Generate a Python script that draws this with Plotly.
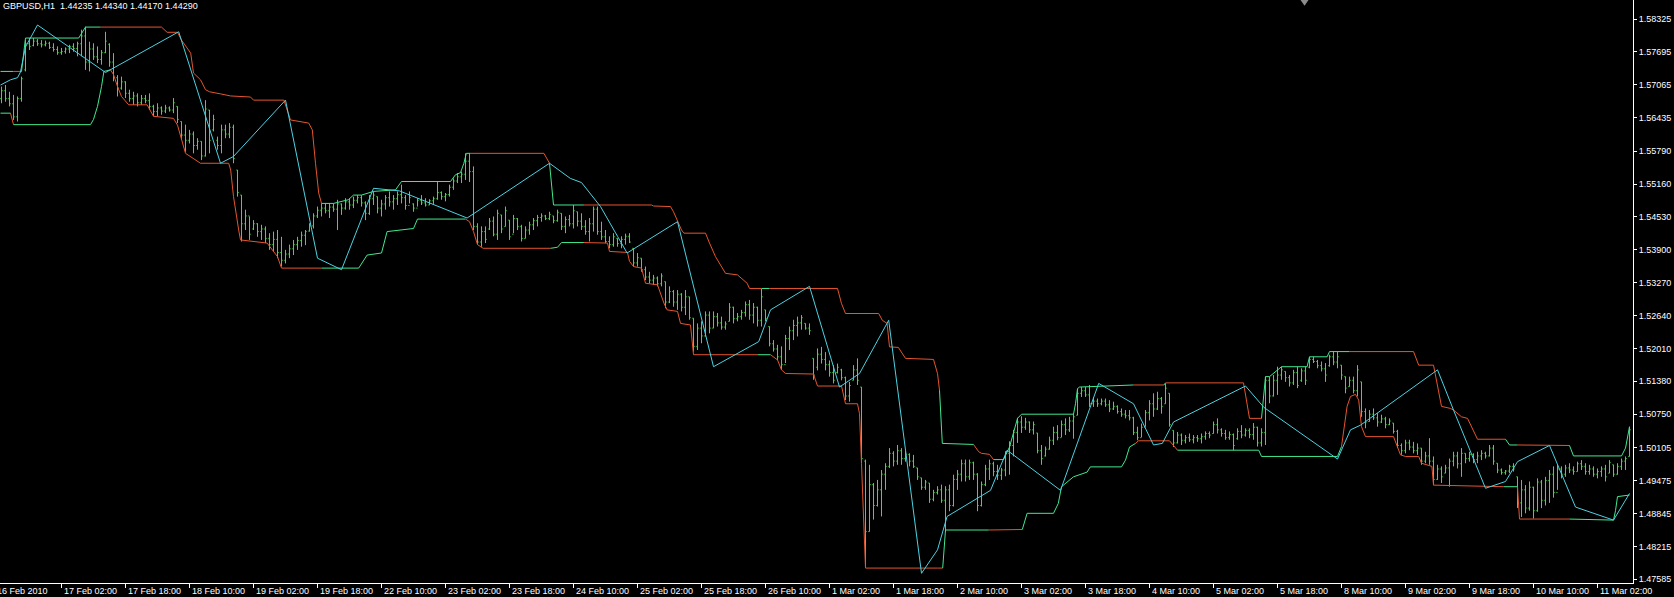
import plotly.graph_objects as go

# GBPUSD H1 bars, prices in pips (1e-4)
opens = [15680, 15695, 15680, 15670, 15645, 15680, 15735, 15785, 15782, 15790, 15785, 15783, 15786, 15778, 15774, 15768,
         15770, 15775, 15780, 15776, 15785, 15800, 15750, 15775, 15760, 15755, 15768, 15784, 15750, 15720, 15700, 15712,
         15690, 15680, 15685, 15672, 15680, 15676, 15665, 15655, 15662, 15656, 15662, 15658, 15665, 15636, 15610, 15600,
         15612, 15590, 15598, 15570, 15658, 15620, 15600, 15590, 15620, 15612, 15625, 15543, 15495, 15440, 15455, 15430,
         15440, 15425, 15430, 15412, 15400, 15410, 15385, 15370, 15382, 15392, 15400, 15408, 15418, 15426, 15436, 15455,
         15466, 15470, 15465, 15472, 15468, 15478, 15470, 15482, 15476, 15485, 15490, 15480, 15460, 15488, 15492, 15470,
         15478, 15490, 15482, 15488, 15496, 15490, 15475, 15478, 15470, 15485, 15480, 15476, 15484, 15488, 15500, 15492,
         15496, 15510, 15522, 15530, 15535, 15560, 15540, 15435, 15405, 15425, 15430, 15445, 15420, 15457, 15435, 15447,
         15420, 15450, 15435, 15412, 15428, 15438, 15446, 15452, 15455, 15450, 15455, 15446, 15460, 15435, 15448, 15440,
         15463, 15445, 15435, 15425, 15440, 15468, 15425, 15415, 15406, 15400, 15412, 15402, 15410, 15416, 15393, 15365,
         15374, 15352, 15338, 15332, 15336, 15325, 15329, 15290, 15310, 15290, 15305, 15280, 15300, 15259, 15205, 15240,
         15225, 15265, 15240, 15262, 15250, 15242, 15253, 15280, 15258, 15262, 15270, 15285, 15265, 15280, 15255, 15275,
         15243, 15210, 15200, 15185, 15170, 15220, 15235, 15245, 15250, 15249, 15240, 15182, 15165, 15190, 15180, 15170,
         15155, 15155, 15160, 15145, 15110, 15140, 15160, 15127, 14985, 14850, 14940, 14900, 14930, 14960, 14975, 15000,
         14985, 15005, 14990, 14998, 14985, 14972, 14953, 14935, 14943, 14912, 14925, 14930, 14910, 14930, 14900, 14950,
         14960, 14980, 14955, 14982, 14960, 14900, 14940, 14970, 14980, 14965, 14958, 14968, 15000, 15015, 15040, 15060,
         15050, 15060, 15045, 15039, 15005, 14995, 15008, 15025, 15040, 15030, 15055, 15045, 15062, 15073, 15115, 15120,
         15112, 15095, 15100, 15095, 15100, 15093, 15085, 15090, 15080, 15075, 15072, 15068, 15040, 15030, 15050, 15078,
         15095, 15085, 15105, 15095, 15115, 15044, 15020, 15035, 15025, 15030, 15026, 15030, 15028, 15032, 15038, 15038,
         15055, 15045, 15038, 15030, 15036, 15028, 15042, 15035, 15044, 15036, 15050, 15020, 15040, 15140, 15110, 15140,
         15150, 15157, 15145, 15135, 15155, 15140, 15158, 15165, 15180, 15176, 15168, 15162, 15168, 15185, 15175, 15169,
         15147, 15128, 15140, 15120, 15137, 15080, 15061, 15075, 15068, 15060, 15066, 15055, 15058, 15042, 15015, 15005,
         15020, 15012, 15005, 15010, 14985, 14995, 14985, 14950, 14970, 14962, 14972, 14985, 14995, 14980, 15000, 14990,
         14998, 14988, 14995, 15000, 14995, 15010, 14981, 14968, 14963, 14966, 14975, 14955, 14905, 14930, 14895, 14935,
         14890, 14945, 14910, 14948, 14960, 14925, 14970, 14960, 14972, 14968, 14965, 14980, 14975, 14965, 14970, 14960,
         14965, 14970, 14962, 14978, 14960, 14975, 14985, 14994]
highs = [15703, 15706, 15693, 15687, 15684, 15722, 15792, 15796, 15796, 15794, 15792, 15791, 15789, 15786, 15780, 15777,
         15778, 15783, 15786, 15789, 15812, 15818, 15789, 15786, 15780, 15773, 15808, 15786, 15767, 15725, 15722, 15713,
         15697, 15693, 15690, 15687, 15687, 15690, 15668, 15671, 15665, 15668, 15665, 15681, 15665, 15636, 15630, 15620,
         15617, 15604, 15598, 15677, 15658, 15649, 15607, 15630, 15630, 15633, 15630, 15543, 15495, 15467, 15454, 15447,
         15441, 15438, 15435, 15422, 15425, 15428, 15415, 15390, 15400, 15409, 15415, 15425, 15428, 15441, 15460, 15473,
         15479, 15479, 15479, 15479, 15486, 15479, 15489, 15489, 15492, 15495, 15495, 15483, 15495, 15502, 15492, 15486,
         15495, 15502, 15495, 15502, 15515, 15495, 15502, 15479, 15489, 15495, 15489, 15487, 15492, 15521, 15502, 15499,
         15515, 15527, 15537, 15540, 15575, 15575, 15550, 15441, 15435, 15435, 15451, 15454, 15467, 15457, 15473, 15447,
         15457, 15451, 15438, 15435, 15444, 15451, 15457, 15460, 15457, 15463, 15455, 15467, 15460, 15454, 15457, 15476,
         15463, 15460, 15447, 15451, 15473, 15473, 15444, 15428, 15416, 15422, 15412, 15416, 15421, 15422, 15393, 15384,
         15374, 15358, 15348, 15342, 15339, 15345, 15329, 15320, 15313, 15313, 15307, 15313, 15300, 15259, 15249, 15253,
         15272, 15272, 15272, 15269, 15262, 15253, 15288, 15281, 15269, 15275, 15291, 15294, 15288, 15281, 15315, 15275,
         15243, 15217, 15208, 15205, 15227, 15243, 15256, 15262, 15265, 15249, 15249, 15182, 15201, 15204, 15194, 15178,
         15169, 15172, 15162, 15147, 15137, 15169, 15182, 15127, 14988, 14978, 14943, 14949, 14968, 14981, 15010, 15004,
         15016, 15010, 15004, 15000, 14997, 14972, 14953, 14949, 14943, 14930, 14937, 14940, 14937, 14940, 14959, 14968,
         14988, 14988, 14988, 14984, 14962, 14946, 14978, 14988, 14984, 14978, 14972, 15004, 15023, 15045, 15068, 15071,
         15068, 15061, 15061, 15039, 15016, 15013, 15032, 15051, 15054, 15063, 15067, 15070, 15076, 15124, 15127, 15127,
         15131, 15108, 15105, 15105, 15105, 15102, 15099, 15092, 15086, 15083, 15083, 15070, 15051, 15057, 15083, 15102,
         15115, 15118, 15108, 15134, 15115, 15044, 15041, 15038, 15035, 15038, 15035, 15035, 15038, 15042, 15042, 15061,
         15067, 15048, 15045, 15042, 15038, 15048, 15054, 15048, 15048, 15058, 15051, 15048, 15147, 15147, 15150, 15166,
         15166, 15157, 15150, 15160, 15166, 15163, 15166, 15185, 15185, 15179, 15176, 15173, 15189, 15195, 15195, 15169,
         15147, 15147, 15147, 15169, 15137, 15086, 15083, 15086, 15077, 15074, 15070, 15067, 15058, 15045, 15019, 15026,
         15026, 15022, 15019, 15010, 15003, 15029, 14994, 14978, 14975, 14978, 14990, 15003, 15003, 15010, 15000, 15003,
         15000, 15003, 15006, 15003, 15016, 15016, 14981, 14971, 14968, 14978, 14981, 14955, 14949, 14939, 14946, 14936,
         14952, 14949, 14955, 14968, 14975, 14978, 14975, 14978, 14981, 14975, 14984, 14987, 14981, 14978, 14975, 14971,
         14975, 14978, 14987, 14978, 14981, 14990, 14994, 15051]
lows = [15671, 15674, 15665, 15639, 15636, 15674, 15732, 15773, 15780, 15781, 15778, 15780, 15775, 15770, 15764, 15764,
        15766, 15767, 15770, 15761, 15761, 15735, 15732, 15754, 15748, 15745, 15767, 15741, 15713, 15684, 15697, 15681,
        15674, 15668, 15665, 15668, 15671, 15658, 15646, 15646, 15649, 15652, 15655, 15652, 15633, 15601, 15578, 15594,
        15575, 15582, 15562, 15569, 15575, 15617, 15582, 15575, 15604, 15604, 15556, 15492, 15406, 15428, 15409, 15428,
        15415, 15409, 15403, 15390, 15387, 15374, 15358, 15364, 15374, 15380, 15390, 15396, 15399, 15425, 15431, 15451,
        15454, 15460, 15451, 15463, 15428, 15457, 15467, 15467, 15470, 15479, 15473, 15447, 15457, 15476, 15460, 15454,
        15467, 15473, 15467, 15476, 15479, 15467, 15479, 15463, 15473, 15476, 15473, 15476, 15478, 15486, 15486, 15483,
        15492, 15505, 15518, 15518, 15524, 15520, 15428, 15400, 15396, 15403, 15428, 15416, 15409, 15422, 15435, 15409,
        15422, 15428, 15406, 15412, 15419, 15428, 15435, 15444, 15447, 15447, 15441, 15444, 15428, 15422, 15435, 15431,
        15435, 15428, 15419, 15406, 15425, 15419, 15409, 15403, 15393, 15396, 15396, 15393, 15400, 15403, 15358, 15358,
        15348, 15332, 15326, 15323, 15320, 15320, 15278, 15288, 15281, 15275, 15272, 15265, 15256, 15195, 15198, 15211,
        15224, 15230, 15240, 15243, 15237, 15237, 15253, 15249, 15253, 15256, 15262, 15256, 15249, 15243, 15243, 15253,
        15205, 15195, 15179, 15160, 15173, 15198, 15217, 15224, 15237, 15237, 15227, 15141, 15159, 15172, 15159, 15147,
        15134, 15153, 15140, 15102, 15099, 15140, 15131, 14981, 14782, 14850, 14873, 14898, 14879, 14930, 14972, 14975,
        14978, 14978, 14984, 14975, 14972, 14949, 14930, 14930, 14905, 14908, 14921, 14905, 14850, 14889, 14898, 14930,
        14946, 14946, 14949, 14949, 14889, 14898, 14937, 14949, 14956, 14949, 14949, 14956, 14959, 14994, 15020, 15039,
        15045, 15039, 15036, 15000, 14978, 14994, 15007, 15016, 15025, 15031, 15035, 15041, 15028, 15073, 15108, 15108,
        15089, 15089, 15089, 15092, 15089, 15079, 15083, 15076, 15070, 15067, 15063, 15035, 15025, 15031, 15051, 15063,
        15070, 15083, 15076, 15095, 15051, 15012, 15019, 15016, 15019, 15022, 15019, 15022, 15019, 15026, 15029, 15038,
        15038, 15032, 15026, 15026, 15006, 15026, 15029, 15032, 15029, 15026, 15013, 15013, 15016, 15096, 15109, 15112,
        15141, 15137, 15128, 15131, 15125, 15137, 15131, 15163, 15173, 15163, 15157, 15137, 15166, 15169, 15163, 15141,
        15115, 15128, 15115, 15109, 15070, 15048, 15061, 15064, 15051, 15058, 15048, 15054, 15038, 15010, 14997, 15000,
        15006, 15000, 14997, 14978, 14981, 14978, 14939, 14949, 14943, 14962, 14936, 14975, 14971, 14955, 14981, 14984,
        14981, 14981, 14987, 14990, 14994, 14978, 14962, 14959, 14959, 14962, 14965, 14895, 14878, 14885, 14890, 14875,
        14888, 14895, 14900, 14905, 14915, 14930, 14952, 14955, 14962, 14959, 14965, 14968, 14959, 14959, 14955, 14952,
        14955, 14946, 14962, 14955, 14959, 14968, 14968, 14994]
closes = [15695, 15680, 15670, 15645, 15680, 15718, 15785, 15780, 15790, 15785, 15783, 15786, 15778, 15774, 15768, 15770,
          15775, 15780, 15776, 15785, 15800, 15750, 15775, 15760, 15755, 15768, 15790, 15750, 15720, 15700, 15712, 15690,
          15680, 15685, 15672, 15680, 15676, 15665, 15655, 15662, 15656, 15662, 15658, 15672, 15640, 15610, 15600, 15612,
          15590, 15598, 15570, 15660, 15600, 15640, 15590, 15620, 15612, 15625, 15565, 15500, 15440, 15455, 15420, 15440,
          15425, 15430, 15412, 15400, 15410, 15385, 15370, 15382, 15392, 15400, 15408, 15418, 15425, 15436, 15455, 15466,
          15470, 15465, 15472, 15468, 15478, 15470, 15482, 15476, 15485, 15490, 15480, 15460, 15488, 15495, 15470, 15478,
          15490, 15482, 15488, 15496, 15490, 15475, 15490, 15470, 15485, 15480, 15476, 15484, 15488, 15500, 15492, 15496,
          15510, 15522, 15530, 15535, 15560, 15540, 15435, 15405, 15425, 15410, 15445, 15420, 15460, 15430, 15465, 15415,
          15450, 15435, 15412, 15428, 15438, 15446, 15452, 15455, 15450, 15458, 15446, 15462, 15435, 15448, 15440, 15465,
          15445, 15435, 15425, 15440, 15468, 15425, 15415, 15406, 15400, 15415, 15402, 15410, 15416, 15405, 15365, 15375,
          15352, 15338, 15332, 15336, 15325, 15340, 15290, 15310, 15290, 15305, 15280, 15300, 15260, 15205, 15240, 15225,
          15265, 15240, 15262, 15250, 15242, 15248, 15280, 15258, 15262, 15270, 15285, 15265, 15280, 15255, 15300, 15258,
          15210, 15200, 15185, 15170, 15220, 15235, 15245, 15250, 15260, 15240, 15235, 15150, 15190, 15180, 15170, 15155,
          15140, 15165, 15145, 15110, 15130, 15160, 15140, 14990, 14850, 14940, 14900, 14930, 14960, 14975, 15000, 14985,
          15005, 14990, 14998, 14985, 14975, 14955, 14935, 14945, 14912, 14925, 14930, 14910, 14930, 14900, 14950, 14960,
          14980, 14955, 14982, 14960, 14900, 14940, 14970, 14980, 14965, 14958, 14968, 15000, 15015, 15040, 15060, 15050,
          15060, 15045, 15055, 15005, 14990, 15008, 15025, 15040, 15030, 15055, 15045, 15062, 15070, 15115, 15120, 15112,
          15095, 15100, 15095, 15100, 15093, 15085, 15090, 15080, 15075, 15072, 15068, 15040, 15030, 15050, 15078, 15095,
          15085, 15105, 15090, 15125, 15055, 15020, 15035, 15025, 15030, 15026, 15030, 15028, 15032, 15038, 15035, 15055,
          15045, 15038, 15030, 15036, 15015, 15042, 15035, 15044, 15036, 15050, 15020, 15040, 15140, 15110, 15140, 15150,
          15160, 15145, 15135, 15155, 15130, 15158, 15140, 15180, 15176, 15168, 15162, 15150, 15185, 15175, 15185, 15150,
          15125, 15140, 15120, 15160, 15080, 15060, 15075, 15068, 15060, 15066, 15055, 15062, 15042, 15015, 15005, 15020,
          15012, 15005, 15010, 14985, 14995, 14985, 14950, 14970, 14955, 14972, 14985, 14995, 14980, 15000, 14990, 14998,
          14988, 14995, 15000, 14995, 15010, 14985, 14968, 14963, 14966, 14975, 14970, 14905, 14930, 14895, 14935, 14890,
          14945, 14910, 14948, 14960, 14925, 14970, 14960, 14972, 14968, 14965, 14980, 14975, 14965, 14970, 14960, 14965,
          14970, 14955, 14982, 14960, 14975, 14985, 14990, 15045]

# channel lines: bar position, price (pips), colour of the segment that starts there (g/r)
upper_x = [-0.25, 3, 4.5, 5, 6, 19.3, 21, 24.75, 40, 41.4, 44, 45, 46.4, 47.3, 48, 49.75, 51, 52, 54.75, 57.25,
           62.25, 63, 70.6, 72.25, 76.8, 77.7, 78.5, 79.3, 80, 83, 86.7, 88, 90, 93, 98.5, 100, 112.25, 113.5,
           114.75, 115.6, 116.2, 117.25, 135.6, 137, 138, 145.6, 162.5, 163, 167.25, 168, 169, 170, 170.6, 176,
           177, 178.5, 181, 184, 186.4, 187, 190, 192, 209, 210, 211, 219.3, 220.2, 221.4, 222, 224.2, 226, 233,
           234, 234.5, 235.2, 243, 244.3, 245, 247, 248, 250.5, 252, 254, 255, 268, 268.5, 269, 269.5, 283, 290.6,
           291, 310.5, 312, 315, 316, 317, 320, 326.4, 327, 331.4, 332, 337, 353, 354.3, 358, 360, 362.25, 363, 365,
           366.5, 369, 376, 377, 379, 392, 393, 405, 406, 407]
upper_p = [15732, 15732, 15732, 15732, 15796, 15796, 15817, 15817, 15817, 15807, 15807, 15792, 15777, 15767, 15729,
           15716, 15697, 15693, 15689, 15685, 15683, 15677, 15677, 15639, 15633, 15620, 15556, 15499, 15479, 15479,
           15486, 15495, 15495, 15502, 15505, 15521, 15521, 15534, 15538, 15556, 15575, 15575, 15575, 15556, 15476,
           15476, 15476, 15474, 15473, 15463, 15444, 15428, 15422, 15422, 15403, 15377, 15345, 15342, 15326, 15316,
           15316, 15316, 15316, 15287, 15268, 15268, 15255, 15249, 15204, 15203, 15182, 15180, 15153, 15121, 15019,
           15017, 15003, 15000, 14998, 14988, 14988, 15012, 15067, 15075, 15075, 15095, 15124, 15127, 15131, 15131,
           15135, 15135, 15067, 15067, 15147, 15147, 15166, 15166, 15185, 15185, 15195, 15195, 15195, 15169, 15169,
           15090, 15086, 15083, 15070, 15067, 15027, 15027, 15016, 15016, 15015, 14995, 14995, 15010, 15051]
upper_c = "grggggg" + "r" * 21 + "g" * 13 + "rrgg" + "r" * 15 + "gr" + "r" * 11 + "ggr" + "rrr" + "ggggggggg" + "rgr" \
          + "rr" + "gggggggg" + "r" * 10 + "ggrgggg"

lower_x = [-0.25, 2.25, 3, 22.25, 23, 24, 25, 25.6, 27.25, 28, 29, 30, 31.8, 36.4, 38, 43, 44, 45.25, 46, 49.75,
           56.8, 57.3, 58, 59.3, 59.75, 66.4, 69, 70, 80, 89.3, 91.4, 95, 96.4, 103, 104, 116, 117, 118, 119,
           120.4, 137.3, 139, 140, 145.6, 151.5, 152, 156.5, 157, 158, 160, 161, 164, 165.6, 166.4, 169, 169.75,
           172.25, 173, 189, 192.25, 194, 195, 196, 203, 204, 210, 211, 214, 214.5, 215, 216, 234, 235.3, 236,
           246.8, 255.2, 256.4, 263, 264.2, 265, 266.4, 268, 271.4, 272.2, 280, 281, 282, 283.5, 284.2, 292, 294,
           314.3, 315, 334, 335, 336.4, 337.25, 338.5, 339.3, 340, 341, 348, 349.75, 351, 354.3, 355, 357.6, 358,
           375.6, 379, 379.5, 392, 403, 403.5, 404, 407]
lower_p = [15652, 15652, 15630, 15630, 15640, 15665, 15703, 15732, 15735, 15726, 15703, 15684, 15668, 15668, 15646,
           15642, 15629, 15594, 15575, 15556, 15556, 15543, 15492, 15428, 15409, 15403, 15377, 15355, 15355, 15355,
           15380, 15384, 15425, 15431, 15449, 15449, 15444, 15425, 15400, 15393, 15393, 15395, 15404, 15404, 15403,
           15387, 15385, 15368, 15358, 15355, 15326, 15323, 15288, 15275, 15272, 15249, 15246, 15189, 15189, 15189,
           15179, 15160, 15153, 15152, 15129, 15129, 15095, 15095, 15076, 14980, 14780, 14780, 14780, 14853, 14853,
           14854, 14885, 14885, 14904, 14936, 14945, 14955, 14964, 14974, 14974, 14987, 15012, 15019, 15024, 15024,
           15006, 15006, 14994, 14994, 15013, 15090, 15109, 15113, 15102, 15051, 15032, 15032, 14997, 14994, 14994,
           14981, 14975, 14939, 14936, 14936, 14874, 14874, 14872, 14890, 14917, 14920]
lower_c = "grgggggg" + "r" * 20 + "g" * 7 + "r" * 5 + "ggg" + "r" * 15 + "gr" + "r" * 12 + "ggr" + "g" * 12 + "r" * 3 \
          + "gg" + "gg" + "r" * 14 + "grr" + "ggggg"

zigzag_x = [-0.25, 2.25, 4, 4.75, 6, 9, 26, 44.3, 54.75, 58, 71, 79, 85, 93, 99.5, 116.4, 137, 142.2, 145, 149.75,
            154, 156.4, 169, 178, 189.3, 192.25, 202, 209.5, 214.5, 221.8, 230, 234, 236.4, 247.25, 251.4, 264.75,
            274.3, 283, 288, 290.2, 293, 311, 315.6, 334, 337.25, 339.75, 359, 363, 371, 376, 379, 387, 393.5, 403,
            407]
zigzag_p = [15706, 15716, 15720, 15731, 15779, 15821, 15730, 15808, 15556, 15569, 15677, 15374, 15352, 15508, 15503,
            15451, 15556, 15527, 15519, 15473, 15416, 15384, 15444, 15166, 15214, 15275, 15320, 15127, 15153, 15255,
            14770, 14815, 14879, 14929, 15006, 14929, 15134, 15095, 15016, 15019, 15060, 15129, 15088, 14989, 15045,
            15054, 15160, 15083, 14933, 14946, 14984, 15015, 14897, 14872, 14923]

price_ticks = [1.58325, 1.57695, 1.57065, 1.56435, 1.55790, 1.55160, 1.54530, 1.53900, 1.53270, 1.52640,
               1.52010, 1.51380, 1.50750, 1.50105, 1.49475, 1.48845, 1.48215, 1.47585]
time_bars = [15, 31, 47, 63, 79, 95, 111, 127, 143, 159, 175, 191, 207, 223, 239, 255, 271, 287, 303, 319, 335,
             351, 367, 383, 399]
time_labels = ["17 Feb 02:00", "17 Feb 18:00", "18 Feb 10:00", "19 Feb 02:00", "19 Feb 18:00", "22 Feb 10:00",
               "23 Feb 02:00", "23 Feb 18:00", "24 Feb 10:00", "25 Feb 02:00", "25 Feb 18:00", "26 Feb 10:00",
               "1 Mar 02:00", "1 Mar 18:00", "2 Mar 10:00", "3 Mar 02:00", "3 Mar 18:00", "4 Mar 10:00",
               "5 Mar 02:00", "5 Mar 18:00", "8 Mar 10:00", "9 Mar 02:00", "9 Mar 18:00", "10 Mar 10:00",
               "11 Mar 02:00"]

BAR = "#46d846"
MINT = "#40e890"
RED = "#e4552f"
CYAN = "#4cd2e2"
FONT = "Liberation Sans"


def colored_line(fig, xs, ps, cols):
    # split the polyline into runs of the same colour
    palette = {"g": MINT, "r": RED}
    n = len(xs) - 1
    runs = []
    a = 0
    for k in range(1, n + 1):
        if k == n or cols[k] != cols[a]:
            runs.append((a, k, cols[a]))
            a = k
    for c in ("r", "g"):
        X, Y = [], []
        for s, e, cc in runs:
            if cc == c:
                X += xs[s:e + 1] + [None]
                Y += [p / 1e4 for p in ps[s:e + 1]] + [None]
        fig.add_trace(go.Scatter(x=X, y=Y, mode="lines", line=dict(color=palette[c], width=1),
                                 hoverinfo="skip", showlegend=False))


fig = go.Figure()
idx = list(range(len(opens)))
fig.add_trace(go.Ohlc(x=idx, open=[v / 1e4 for v in opens], high=[v / 1e4 for v in highs],
                      low=[v / 1e4 for v in lows], close=[v / 1e4 for v in closes],
                      increasing=dict(line=dict(color=BAR, width=1)),
                      decreasing=dict(line=dict(color=BAR, width=1)),
                      tickwidth=0.3, hoverinfo="skip", showlegend=False))
colored_line(fig, upper_x, upper_p, upper_c)
colored_line(fig, lower_x, lower_p, lower_c)
fig.add_trace(go.Scatter(x=zigzag_x, y=[p / 1e4 for p in zigzag_p], mode="lines",
                         line=dict(color=CYAN, width=1), hoverinfo="skip", showlegend=False))

# time labels sit to the right of their tick, MT4 style
for b, t in zip(time_bars, time_labels):
    fig.add_annotation(x=b, y=0, xref="x", yref="paper", text=t, showarrow=False, xanchor="left",
                       yanchor="top", xshift=0, yshift=-1, font=dict(family=FONT, size=9, color="white"))
fig.add_annotation(x=-0.375, y=0, xref="x", yref="paper", text="16 Feb 2010", showarrow=False, xanchor="left",
                   yanchor="top", xshift=-5, yshift=-1, font=dict(family=FONT, size=9, color="white"))
fig.add_annotation(x=0, y=1, xref="paper", yref="paper", text="GBPUSD,H1 \u00a01.44235 1.44340 1.44170 1.44290",
                   showarrow=False, xanchor="left", yanchor="top", xshift=1, yshift=1,
                   font=dict(family=FONT, size=9, color="white"))
# chart-shift marker at the top edge
fig.add_shape(type="path", xref="paper", yref="paper",
              path="M 0.7964 1 L 0.8013 1 L 0.79885 0.99 Z", fillcolor="#8c8c8c", line=dict(width=0))

fig.update_layout(
    width=1674, height=597,
    margin=dict(l=0, r=41, t=0, b=14, autoexpand=False),
    paper_bgcolor="black", plot_bgcolor="black",
    hovermode=False, showlegend=False,
    xaxis=dict(range=[-0.375, 407.875], showgrid=False, zeroline=False, rangeslider=dict(visible=False),
               tickvals=time_bars, showticklabels=False, ticks="outside", ticklen=4, tickcolor="white",
               showline=True, linecolor="white", linewidth=1),
    yaxis=dict(range=[1.475143, 1.586892], side="right", showgrid=False, zeroline=False,
               tickvals=price_ticks, ticktext=["%.5f" % v for v in price_ticks],
               ticks="outside", ticklen=3, tickcolor="white",
               showline=True, linecolor="white", linewidth=1,
               tickfont=dict(family=FONT, size=9, color="white")),
)

# the page's default 8px body margin would push the chart off the window
fig.write_html("out.html", config={"displayModeBar": False},
               post_script="document.body.style.margin='0px';document.body.style.background='black';")
